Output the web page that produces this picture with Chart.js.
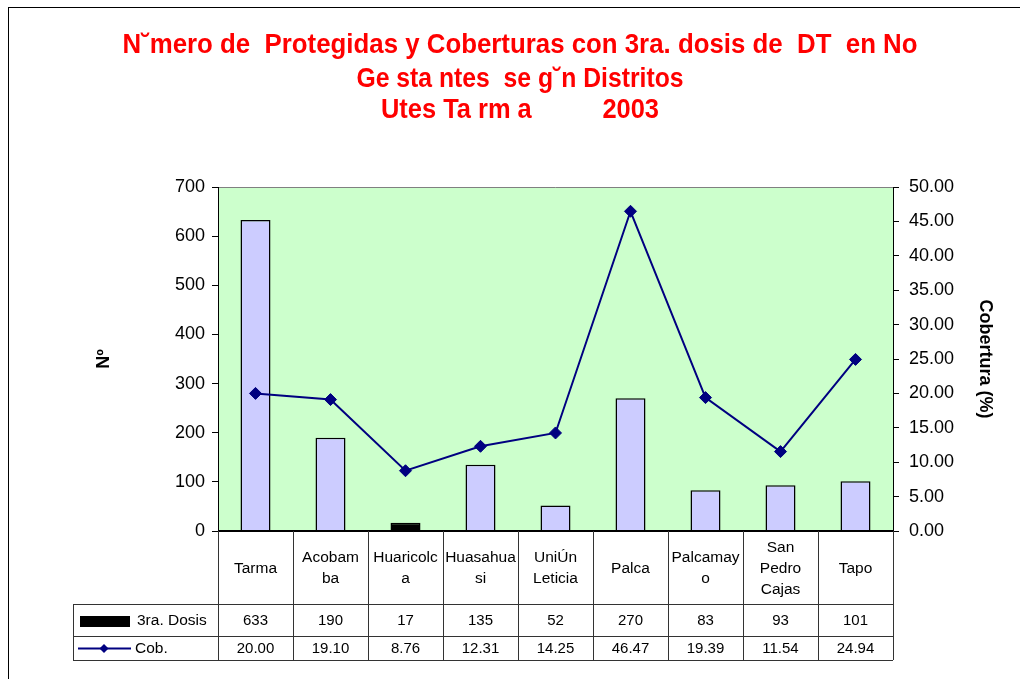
<!DOCTYPE html>
<html>
<head>
<meta charset="utf-8">
<script src="https://cdn.jsdelivr.net/npm/chart.js@4.4.1/dist/chart.umd.min.js"></script>
<style>
html,body{margin:0;padding:0;background:#fff;}
#wrap{width:1020px;height:679px;position:relative;}
</style>
</head>
<body>
<div id="wrap"><canvas id="c" width="1020" height="679"></canvas></div>
<script>
const categories = [
  "Tarma", ["Acobam","ba"], ["Huaricolc","a"], ["Huasahua","si"], ["UniÚn","Leticia"],
  "Palca", ["Palcamay","o"], ["San","Pedro","Cajas"], "Tapo"
];
const dosis = [633, 190, 17, 135, 52, 270, 83, 93, 101];
const cobertura = [20.00, 19.10, 8.76, 12.31, 14.25, 46.47, 19.39, 11.54, 24.94];
const titleLines = [
  "N˘mero de  Protegidas y Coberturas con 3ra. dosis de  DT  en No",
  "Ge sta ntes  se g˘n Distritos",
  "Utes Ta rm a          2003"
];
const seriesNames = ["3ra. Dosis", "Cob."];
const barColors = dosis.map((v,i) => i === 2 ? "#000000" : "#CCCCFF");

const FONT = "'Liberation Sans', Arial, sans-serif";

const decor = {
  id: 'decor',
  beforeDraw(chart) {
    const {ctx, chartArea: a} = chart;
    ctx.save();
    ctx.fillStyle = '#fff';
    ctx.fillRect(0, 0, chart.width, chart.height);
    ctx.strokeStyle = '#000';
    ctx.lineWidth = 1;
    ctx.strokeRect(8.5, 7.5, 1100, 800);
    ctx.fillStyle = '#CCFFCC';
    ctx.fillRect(a.left, a.top, a.right - a.left, a.bottom - a.top);
    ctx.strokeStyle = '#808080';
    ctx.beginPath();
    ctx.moveTo(a.left, a.top + 0.5);
    ctx.lineTo(a.right, a.top + 0.5);
    ctx.stroke();
    ctx.fillStyle = '#FF0000';
    ctx.font = "bold 27px " + FONT;
    ctx.textAlign = 'center';
    ctx.textBaseline = 'alphabetic';
    const widths = [795, 327, 278];
    const bases = [53, 87, 118];
    titleLines.forEach((t, i) => ctx.fillText(t, 520, bases[i], widths[i]));
    ctx.restore();
  },
  afterDraw(chart) {
    const {ctx, chartArea: a} = chart;
    const x = chart.scales.x;
    const n = categories.length;
    const centers = categories.map((c, i) => x.getPixelForValue(i));
    const step = n > 1 ? centers[1] - centers[0] : (a.right - a.left);
    const bounds = [a.left];
    for (let i = 0; i < n; i++) bounds.push(centers[i] + step / 2);
    const rowTop = a.bottom, row1 = 604, row2 = 636, row3 = 660, legLeft = 73;
    ctx.save();
    ctx.strokeStyle = '#000';
    ctx.lineWidth = 2;
    ctx.beginPath();
    ctx.moveTo(a.left, a.bottom);
    ctx.lineTo(a.right, a.bottom);
    ctx.stroke();
    ctx.lineWidth = 1;
    ctx.strokeStyle = '#333';
    ctx.beginPath();
    bounds.forEach(b => {
      const bx = Math.round(b) + 0.5;
      ctx.moveTo(bx, rowTop);
      ctx.lineTo(bx, row3);
    });
    ctx.moveTo(legLeft + 0.5, row1);
    ctx.lineTo(legLeft + 0.5, row3);
    [row1, row2, row3].forEach(r => {
      ctx.moveTo(legLeft, r + 0.5);
      ctx.lineTo(a.right, r + 0.5);
    });
    ctx.stroke();
    ctx.fillStyle = '#000';
    ctx.font = "15.5px " + FONT;
    ctx.textAlign = 'center';
    ctx.textBaseline = 'middle';
    const mid = (rowTop + row1) / 2 + 1;
    const lh = 21;
    categories.forEach((c, i) => {
      const lines = Array.isArray(c) ? c : [c];
      const start = mid - (lines.length - 1) * lh / 2;
      lines.forEach((l, j) => ctx.fillText(l, centers[i], start + j * lh, step - 4));
    });
    ctx.font = "15px " + FONT;
    dosis.forEach((v, i) => ctx.fillText(String(v), centers[i], (row1 + row2) / 2 + 1));
    cobertura.forEach((v, i) => ctx.fillText(v.toFixed(2), centers[i], (row2 + row3) / 2 + 1));
    ctx.fillStyle = '#000';
    ctx.fillRect(80, 616, 50, 11);
    ctx.strokeStyle = '#000080';
    ctx.lineWidth = 2;
    ctx.beginPath();
    ctx.moveTo(78, 648.5);
    ctx.lineTo(131, 648.5);
    ctx.stroke();
    ctx.fillStyle = '#000080';
    ctx.beginPath();
    ctx.moveTo(104, 644); ctx.lineTo(108.5, 648.5); ctx.lineTo(104, 653); ctx.lineTo(99.5, 648.5);
    ctx.closePath(); ctx.fill();
    ctx.fillStyle = '#000';
    ctx.textAlign = 'left';
    ctx.font = "15.5px " + FONT;
    ctx.fillText(seriesNames[0], 137, (row1 + row2) / 2 + 1);
    ctx.fillText(seriesNames[1], 135, (row2 + row3) / 2 + 1);
    ctx.restore();
  }
};

new Chart(document.getElementById('c'), {
  data: {
    labels: categories,
    datasets: [
      {
        type: 'line', label: seriesNames[1], data: cobertura, yAxisID: 'y1', order: 0,
        borderColor: '#000080', backgroundColor: '#000080', borderWidth: 2,
        pointStyle: 'rectRot', pointRadius: 6, pointBorderWidth: 1,
        pointBackgroundColor: '#000080', pointBorderColor: '#000080', tension: 0
      },
      {
        type: 'bar', label: seriesNames[0], data: dosis, yAxisID: 'y', order: 1,
        backgroundColor: barColors, borderColor: '#000', borderWidth: 1.5,
        barPercentage: 0.4, categoryPercentage: 1.0
      }
    ]
  },
  options: {
    responsive: false,
    animation: false,
    events: [],
    layout: { padding: { top: 187, bottom: 148, left: 0, right: 0 } },
    plugins: { legend: { display: false }, tooltip: { enabled: false }, title: { display: false } },
    scales: {
      x: { display: false, offset: true },
      y: {
        position: 'left', min: 0, max: 700,
        ticks: { stepSize: 100, color: '#000', font: { family: FONT, size: 18 }, padding: 7 },
        grid: { drawOnChartArea: false, drawTicks: true, tickLength: 6, color: '#000' },
        border: { display: true, color: '#000', width: 1 },
        title: { display: true, text: 'Nº', color: '#000', font: { family: FONT, size: 18, weight: 'bold' }, padding: { top: 93, bottom: 0 } },
        afterFit(s) { s.width = 218; }
      },
      y1: {
        position: 'right', min: 0, max: 50,
        ticks: { stepSize: 5, color: '#000', font: { family: FONT, size: 18 }, padding: 10,
          callback: v => Number(v).toFixed(2) },
        grid: { drawOnChartArea: false, drawTicks: true, tickLength: 6, color: '#000' },
        border: { display: true, color: '#000', width: 1 },
        title: { display: true, text: 'Cobertura (%)', color: '#000', font: { family: FONT, size: 18, weight: 'bold' }, padding: { top: 24, bottom: 0 } },
        afterFit(s) { s.width = 127; }
      }
    }
  },
  plugins: [decor]
});
</script>
</body>
</html>
